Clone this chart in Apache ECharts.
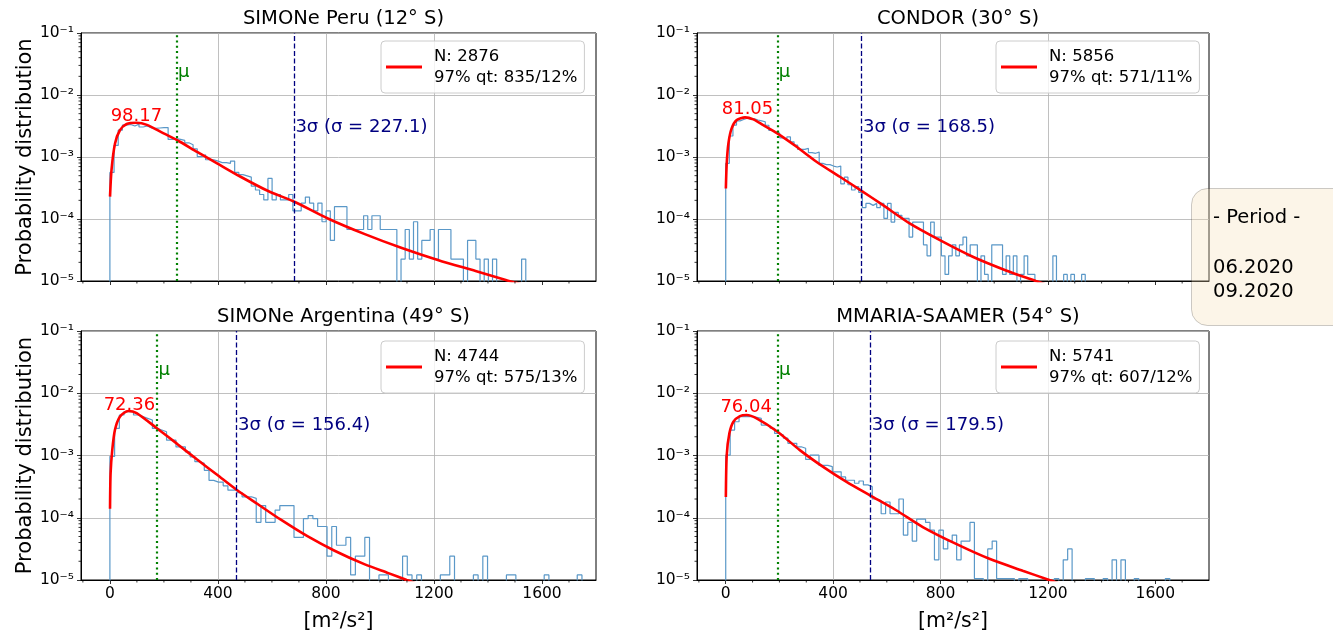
<!DOCTYPE html>
<html><head><meta charset="utf-8">
<script src="https://cdn.jsdelivr.net/npm/echarts@6/dist/echarts.min.js"></script>
<style>html,body{margin:0;padding:0;background:#fff}#c{width:1333px;height:635px}</style>
</head><body><div id="c"></div>
<script>
const FONT = 'DejaVu Sans';

// ---- data ----
const stationTitles = ['SIMONe Peru (12° S)', 'CONDOR (30° S)', 'SIMONe Argentina (49° S)', 'MMARIA-SAAMER (54° S)'];
const sampleN = [2876, 5856, 4744, 5741];
const quantileText = ['97% qt: 835/12%', '97% qt: 571/11%', '97% qt: 575/13%', '97% qt: 607/12%'];
const modeValue = ['98.17', '81.05', '72.36', '76.04'];
const modeLabelY = [4.6e-3, 5.9e-3, 6.4e-3, 5.9e-3];
const muValue = [247, 192, 174, 193];
const sigmaValue = [227.1, 168.5, 156.4, 179.5];
const binWidth = [15.4, 13.39, 17.48, 16.54];
const xTicks = [0, 400, 800, 1200, 1600];
const xMinorTicks = [-100, 100, 200, 300, 500, 600, 700, 900, 1000, 1100, 1300, 1400, 1500, 1700];
const yMinorTicks = [2e-5,3e-5,4e-5,5e-5,6e-5,7e-5,8e-5,9e-5,
  2e-4,3e-4,4e-4,5e-4,6e-4,7e-4,8e-4,9e-4,
  2e-3,3e-3,4e-3,5e-3,6e-3,7e-3,8e-3,9e-3,
  2e-2,3e-2,4e-2,5e-2,6e-2,7e-2,8e-2,9e-2];
const periodLines = ['- Period -', '06.2020', '09.2020'];

const countsPeru = [25,68,120,145,148,140,150,135,140,130, 128,130,132,132,85,88,85,82,75,70,
  60,45,48,40,40,38,36,36,35,38, 25,23,22,21,15,13,11,9,20,9, 11,9,9,11,6,6,8,10,8,6,
  8,4,6,2,7,7,7,3,3,3, 3,5,3,5,5,3,3,3,3,0, 1,3,1,4,1,2,2,3,1,3, 3,3,1,1,1,0,2,2,1,0,
  1,0,1,0,0,0,0,0,0,1];
const countsCondor = [62,171,257,300,315,330,315,325,310,300, 290,255,210,200,190,160,150,165,138,122,
  104,104,108,92,90,94,62,59,59,56, 54,56,29,37,28,23,26,21,12,14, 13,14,12,14,8,14,7,10,9,8,
  8,4,7,7,7,3,2,7,4,4, 2,1,2,3,2,3,4,2,3,3, 0,2,1,0,3,3,3,1,2,1, 2,0,1,2,1,1,0,0,0,0,
  0,2,0,0,1,0,1,0,0,1];
const countsArgentina = [80,226,371,420,420,371,349,328,308,226, 213,200,146,146,114,114,95,79,66,62,
  48,33,31,31,27,23,23,21,18,18, 17,7,13,7,7,11,13,13,13,4, 4,8,9,8,6,6,2,6,3,3,
  4,1,2,2,4,0,0,1,1,0, 0,0,2,1,0,1,0,0,0,0, 1,1,2,0,0,0,0,1,0,2, 0,0,0,0,1,1,0,0,0,0,
  0,0,1,0,0,0,0,0,0,1];
const countsMmaria = [96,243,331,399,399,399,390,375,293,282, 260,215,203,180,149,149,131,124,82,96,
  96,66,66,63,52,52,43,38,38,34, 37,32,30,19,18,11,17,11,11,19, 5,8,4,9,9,8,6,2,6,3,
  4,5,2,4,4,8,1,1,0,3, 4,1,1,1,1,0,1,1,0,0, 0,0,0,0,1,0,2,3,0,0, 0,1,1,0,0,1,0,2,0,2,
  0,0,1,0,0,0,0,0,0,1];

const fitPeru = [[0.5,2.3e-4],[6,6.2e-4],[19,1.65e-3],[37,2.7e-3],[62,3.4e-3],[99,3.57e-3],[137,3.3e-3],
  [199,2.4e-3],[248,1.88e-3],[323,1.21e-3],[397,7.9e-4],[484,4.8e-4],[584,2.85e-4],[683,1.9e-4],
  [807,1.02e-4],[944,5.7e-5],[1081,3.4e-5],[1217,2.16e-5],[1354,1.45e-5],[1472,1.02e-5],[1540,8.5e-6]];
const fitCondor = [[0.5,3.1e-4],[3.7,7.9e-4],[10,1.66e-3],[22,2.9e-3],[41,3.95e-3],[72,4.36e-3],[103,4.05e-3],
  [140,3.27e-3],[192,2.4e-3],[264,1.46e-3],[338,8.4e-4],[425,4.8e-4],[503,2.9e-4],[586,1.67e-4],
  [685,8.5e-5],[796,4.6e-5],[920,2.46e-5],[1044,1.48e-5],[1155,1.0e-5],[1220,8e-6]];
const fitArgentina = [[0.5,1.4e-4],[2.5,5.1e-4],[8.7,1.22e-3],[18.6,2.57e-3],[37,4.2e-3],[68,5.2e-3],[99,4.8e-3],
  [175,2.72e-3],[248,1.55e-3],[323,8.6e-4],[397,4.9e-4],[469,2.82e-4],[547,1.66e-4],[633,9.3e-5],
  [733,5.0e-5],[832,2.95e-5],[944,1.78e-5],[1031,1.29e-5],[1099,1.0e-5],[1160,8e-6]];
const fitMmaria = [[0.5,2.15e-4],[3.7,1.01e-3],[13.6,2.27e-3],[28.5,3.49e-3],[53,4.3e-3],[78,4.47e-3],[115,3.95e-3],
  [193,2.41e-3],[276,1.22e-3],[363,6.56e-4],[450,3.76e-4],[537,2.29e-4],[635,1.32e-4],[734,7.1e-5],
  [858,3.8e-5],[982,2.19e-5],[1106,1.41e-5],[1205,1.0e-5],[1270,8e-6]];

const allCounts = [countsPeru, countsCondor, countsArgentina, countsMmaria];
const allFits = [fitPeru, fitCondor, fitArgentina, fitMmaria];

// ---- layout ----
const X_MIN = -107, X_MAX = 1800, Y_MIN = 1e-5, Y_MAX = 0.1, ZERO = 1e-7;
const grids = [
  {left: 81, top: 33, width: 515, height: 248},
  {left: 697, top: 33, width: 512, height: 248},
  {left: 81, top: 331, width: 515, height: 249},
  {left: 697, top: 331, width: 512, height: 249}
];
const legendPos = [[381, 41], [996, 41], [381, 341], [996, 341]];
const titleTop = [4, 4, 302, 302];

const SUP = {'-': '⁻', '0': '⁰', '1': '¹', '2': '²', '3': '³', '4': '⁴', '5': '⁵', '6': '⁶', '7': '⁷', '8': '⁸', '9': '⁹'};
function supText(n) { return String(n).split('').map(c => SUP[c]).join(''); }

function histData(counts, N, bw) {
  const pts = [[0, ZERO]];
  counts.forEach((c, i) => pts.push([i * bw, c > 0 ? c / (N * bw) : ZERO]));
  const last = counts[counts.length - 1];
  pts.push([counts.length * bw, last > 0 ? last / (N * bw) : ZERO]);
  pts.push([counts.length * bw, ZERO]);
  return pts;
}

const minorData = [];
xMinorTicks.forEach(v => minorData.push([v, Y_MIN, 0]));
yMinorTicks.forEach(v => minorData.push([X_MIN, v, 1]));

const option = {
  animation: false,
  backgroundColor: '#fff',
  textStyle: {fontFamily: FONT},
  title: stationTitles.map((t, i) => ({
    text: t, left: grids[i].left + grids[i].width / 2, top: titleTop[i], textAlign: 'center',
    textStyle: {fontFamily: FONT, fontSize: 19.5, fontWeight: 'normal', color: '#000'}
  })),
  legend: stationTitles.map((t, i) => ({
    data: ['fit' + i], left: legendPos[i][0], top: legendPos[i][1], selectedMode: false,
    icon: 'rect', itemWidth: 36, itemHeight: 3,
    padding: [5, 7, 5, 5], backgroundColor: 'rgba(255,255,255,0.8)', borderColor: '#cccccc',
    borderWidth: 1, borderRadius: 4,
    formatter: () => '{t|N: ' + sampleN[i] + '}\n{t|' + quantileText[i] + '}',
    textStyle: {fontFamily: FONT, fontSize: 16.5, color: '#000', lineHeight: 21,
      rich: {t: {fontFamily: FONT, fontSize: 16.5, color: '#000', lineHeight: 21, padding: [0, 0, 0, 7]}}}
  })),
  grid: grids.map(g => Object.assign({show: true, borderColor: '#000', borderWidth: 1, backgroundColor: '#fff'}, g)),
  xAxis: grids.map((g, i) => ({
    type: 'value', gridIndex: i, min: X_MIN, max: X_MAX, minInterval: 400, maxInterval: 400,
    axisLine: {show: true, onZero: false, lineStyle: {color: '#000', width: 1}},
    axisTick: {show: true, length: 4, customValues: xTicks, lineStyle: {color: '#000', width: 0.8}},
    axisLabel: {show: i >= 2, customValues: xTicks, interval: 0, hideOverlap: false,
      showMinLabel: true, showMaxLabel: true, margin: 6,
      formatter: v => (xTicks.indexOf(v) >= 0 ? String(v) : ''),
      fontFamily: FONT, fontSize: 15.5, color: '#000'},
    splitLine: {show: true, showMinLine: false, showMaxLine: false, lineStyle: {color: '#b0b0b0', width: 0.8}},
    name: i >= 2 ? '[m²/s²]' : '', nameLocation: 'middle', nameGap: 31,
    nameTextStyle: {fontFamily: FONT, fontSize: 20.5, color: '#000'}
  })),
  yAxis: grids.map((g, i) => ({
    type: 'log', logBase: 10, gridIndex: i, min: Y_MIN, max: Y_MAX,
    axisLine: {show: true, onZero: false, lineStyle: {color: '#000', width: 1}},
    axisTick: {show: true, length: 4, lineStyle: {color: '#000', width: 0.8}},
    axisLabel: {margin: 7, fontFamily: FONT, fontSize: 15.5, color: '#000',
      formatter: v => '10' + supText(Math.round(Math.log10(v)))},
    splitLine: {show: true, showMinLine: false, showMaxLine: false, lineStyle: {color: '#b0b0b0', width: 0.8}},
    name: i % 2 === 0 ? 'Probability distribution' : '', nameLocation: 'middle', nameGap: 45,
    nameTextStyle: {fontFamily: FONT, fontSize: 21, color: '#000'}
  })),
  series: [],
  graphic: [
    {type: 'rect', left: 1191, top: 188, z: 100,
      shape: {width: 175, height: 137, r: 16},
      style: {fill: 'rgba(245,222,179,0.3)', stroke: 'rgba(0,0,0,0.2)', lineWidth: 1}},
    {type: 'text', x: 1213, y: 218, z: 101, style: {text: periodLines[0], font: '19.5px "DejaVu Sans"', fill: '#000', verticalAlign: 'middle'}},
    {type: 'text', x: 1213, y: 268, z: 101, style: {text: periodLines[1], font: '19.5px "DejaVu Sans"', fill: '#000', verticalAlign: 'middle'}},
    {type: 'text', x: 1213, y: 292, z: 101, style: {text: periodLines[2], font: '19.5px "DejaVu Sans"', fill: '#000', verticalAlign: 'middle'}}
  ]
};

for (let i = 0; i < 4; i++) {
  option.series.push({
    type: 'line', name: 'hist' + i, xAxisIndex: i, yAxisIndex: i, step: 'end',
    data: histData(allCounts[i], sampleN[i], binWidth[i]), symbol: 'none', clip: true,
    lineStyle: {color: '#5a98c8', width: 1.2}, z: 3, silent: true
  });
  option.series.push({
    type: 'line', name: 'fit' + i, xAxisIndex: i, yAxisIndex: i, data: allFits[i],
    smooth: 0.25, symbol: 'none', clip: true, color: '#ff0000',
    lineStyle: {color: '#ff0000', width: 2.6}, z: 4, silent: true
  });
  const threeSigma = 3 * sigmaValue[i];
  option.series.push({
    type: 'scatter', name: 'ann' + i, xAxisIndex: i, yAxisIndex: i, symbolSize: 1,
    itemStyle: {color: 'rgba(0,0,0,0)', opacity: 1}, z: 6, silent: true,
    label: {show: true, fontFamily: FONT, fontSize: 18, opacity: 1},
    data: [
      {value: [muValue[i], 0.0234], label: {formatter: 'μ', position: 'right', distance: 1, color: '#008000'}},
      {value: [threeSigma, 3e-3], label: {formatter: '3σ (σ = ' + sigmaValue[i] + ')', position: 'right', distance: 1, color: '#000080'}},
      {value: [parseFloat(modeValue[i]), modeLabelY[i]], label: {formatter: modeValue[i], position: 'inside', color: '#ff0000', textBorderWidth: 0}}
    ],
    markLine: {
      silent: true, symbol: 'none', label: {show: false}, animation: false,
      data: [
        {xAxis: muValue[i], lineStyle: {color: '#008000', type: [2, 3.3], width: 2.2, opacity: 1}},
        {xAxis: threeSigma, lineStyle: {color: '#000080', type: [5, 2.5], width: 1.3, opacity: 1}}
      ]
    }
  });
  option.series.push({
    type: 'custom', name: 'minor' + i, xAxisIndex: i, yAxisIndex: i, silent: true, clip: false, z: 7,
    data: minorData,
    renderItem: (params, api) => {
      const kind = api.value(2);
      const p = api.coord([api.value(0), api.value(1)]);
      if (kind === 0) {
        return {type: 'line', shape: {x1: p[0], y1: p[1], x2: p[0], y2: p[1] + 2.5}, style: {stroke: '#000', lineWidth: 0.8}};
      }
      return {type: 'line', shape: {x1: p[0] - 2.5, y1: p[1], x2: p[0], y2: p[1]}, style: {stroke: '#000', lineWidth: 0.8}};
    }
  });
}

const chart = echarts.init(document.getElementById('c'), null, {renderer: 'canvas'});
chart.setOption(option);
</script>
</body></html>
